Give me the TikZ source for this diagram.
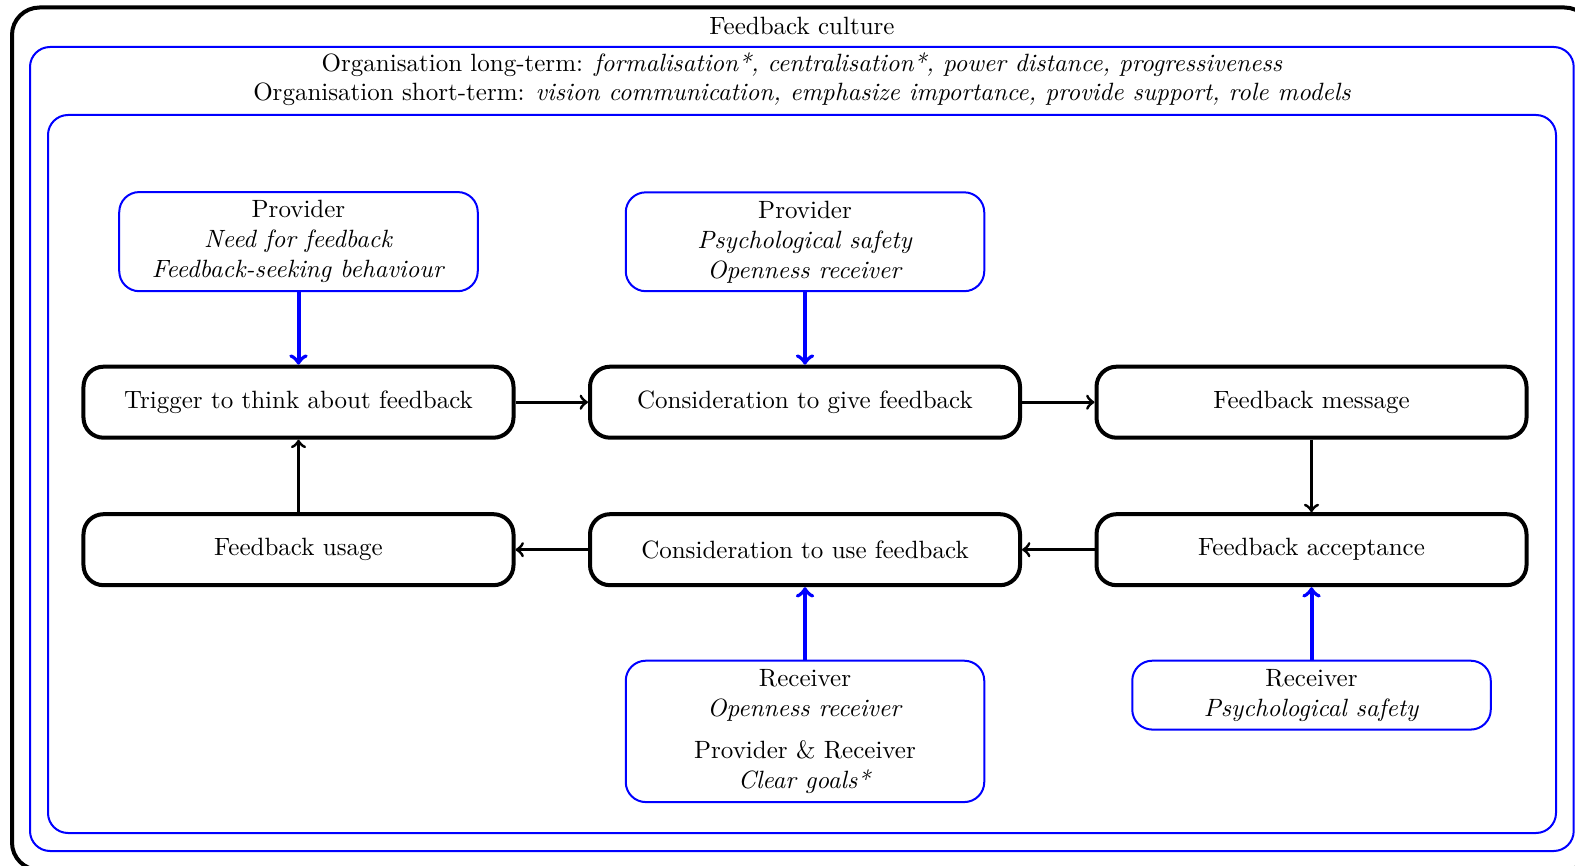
\documentclass[tikz,border=0pt]{standalone}
\usepackage{tikz}
\usepackage{amsmath}
\usetikzlibrary{shapes.geometric, arrows, positioning}
\tikzstyle{stage} = [rectangle, rounded corners=8pt, draw, ultra thick, text centered, minimum width=172pt, minimum height=28.4pt]
\tikzstyle{factor} = [rectangle, rounded corners=8pt, draw=blue, thick, align=center, minimum width=143.4pt]
\tikzstyle{frame} = [blue, thick, rounded corners=8pt]
\tikzstyle{arrow} = [very thick,->]
\tikzstyle{bluearrow} = [ultra thick,->,blue]

\begin{document}
\begin{tikzpicture}[x=0.4pt, y=-0.4pt, node distance=29pt]
        \useasboundingbox (0,0) rectangle (1575,866);
        % frames
        \draw[ultra thick, rounded corners=11pt] (12,7.5) rectangle (1592,870);
        \draw[frame] (30,47) rectangle (1573.7,851);
        \draw[frame] (48,115) rectangle (1556,833);
        \node (culture) at (802,26) {Feedback culture};
        \node[align=center] (org) at (802,79.5) {Organisation long-term: \textit{formalisation*, centralisation*, power distance, progressiveness}\\[-0.5pt]Organisation short-term: \textit{vision communication, emphasize importance, provide support, role models}};
        % process
        \node[stage] (trigger) at (298.5,402.2) {Trigger to think about feedback};
        \node[stage, right=of trigger] (give) {Consideration to give feedback};
        \node[stage, right=of give] (message) {Feedback message};
        \node[stage, below=of message] (accept) {Feedback acceptance};
        \node[stage, below=of give] (use) {Consideration to use feedback};
        \node[stage, below=of trigger] (usage) {Feedback usage};
        % factors
        \node[factor, above=of trigger] (provA) {Provider\\\textit{Need for feedback}\\\textit{Feedback-seeking behaviour}};
        \node[factor, above=of give] (provB) {Provider\\\textit{Psychological safety}\\\textit{Openness receiver}};
        \node[factor, below=of use] (recvA) {Receiver\\\textit{Openness receiver}\\[5pt]Provider \& Receiver\\\textit{Clear goals*}};
        \node[factor, below=of accept] (recvB) {Receiver\\\textit{Psychological safety}};
        \draw[arrow] (trigger) -- (give);
        \draw[arrow] (give) -- (message);
        \draw[arrow] (message) -- (accept);
        \draw[arrow] (accept) -- (use);
        \draw[arrow] (use) -- (usage);
        \draw[arrow] (usage) -- (trigger);
        \draw[bluearrow] (provA) -- (trigger);
        \draw[bluearrow] (provB) -- (give);
        \draw[bluearrow] (recvA) -- (use);
        \draw[bluearrow] (recvB) -- (accept);
    \end{tikzpicture}
\end{document}
